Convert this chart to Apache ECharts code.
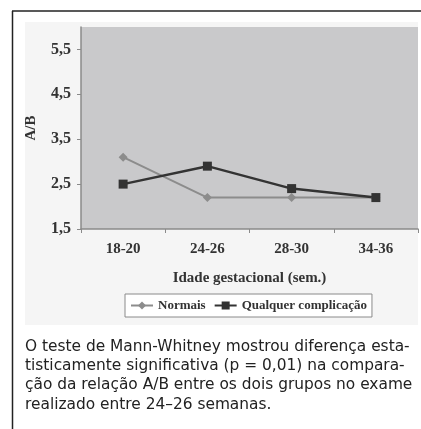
<!DOCTYPE html>
<html><head><meta charset="utf-8">
<script src="https://cdn.jsdelivr.net/npm/echarts@6/dist/echarts.min.js"></script>
<style>html,body{margin:0;padding:0;background:#fff}#c{width:421px;height:429px}</style>
</head><body><div id="c"></div>
<script>
const categories = ['18-20', '24-26', '28-30', '34-36'];
const normais = [3.1, 2.2, 2.2, 2.2];
const qualquer = [2.5, 2.9, 2.4, 2.2];
const yTicks = [1.5, 2.5, 3.5, 4.5, 5.5];
const captionLines = [
  'O teste de Mann-Whitney mostrou diferença esta-',
  'tisticamente significativa (p = 0,01) na compara-',
  'ção da relação A/B entre os dois grupos no exame',
  'realizado entre 24–26 semanas.'
];
const serif = '"Liberation Serif", "Times New Roman", serif';
const chart = echarts.init(document.getElementById('c'), null, {renderer: 'canvas'});
const graphics = [
  {type: 'rect', z: -10, shape: {x: 25, y: 22, width: 393, height: 303}, style: {fill: '#f5f5f5'}},
  {type: 'line', z: 10, shape: {x1: 12.5, y1: 11, x2: 12.5, y2: 429}, style: {stroke: '#222', lineWidth: 1.5}},
  {type: 'line', z: 10, shape: {x1: 12, y1: 11, x2: 421, y2: 11}, style: {stroke: '#222', lineWidth: 1.5}}
];
captionLines.forEach((t, i) => {
  graphics.push({type: 'text', left: 25, top: 339 + i * 19.4, style: {text: t, font: '15.4px "DejaVu Sans", sans-serif', fill: '#222'}});
});
chart.setOption({
  animation: false,
  backgroundColor: '#fff',
  graphic: graphics,
  grid: {left: 81, right: 3, top: 27, bottom: 200, show: true, backgroundColor: '#c9c9cb', borderWidth: 0},
  legend: {
    left: 125, top: 294, padding: [5, 5], itemGap: 8, itemWidth: 22, itemHeight: 10,
    backgroundColor: '#fff', borderColor: '#8a8a8a', borderWidth: 1,
    textStyle: {fontFamily: serif, fontWeight: 'bold', fontSize: 13, color: '#333'},
    data: ['Normais', 'Qualquer complicação']
  },
  xAxis: {
    type: 'category', data: categories, boundaryGap: true,
    name: 'Idade gestacional (sem.)', nameLocation: 'middle', nameGap: 42,
    nameTextStyle: {fontFamily: serif, fontWeight: 'bold', fontSize: 15, color: '#333'},
    axisLine: {lineStyle: {color: '#8a8a8a', width: 1.5}},
    axisTick: {show: true, length: 4, lineStyle: {color: '#8a8a8a'}},
    axisLabel: {margin: 13, fontFamily: serif, fontWeight: 'bold', fontSize: 15, color: '#333'}
  },
  yAxis: {
    type: 'value', min: 1.5, max: 6, interval: 1,
    name: 'A/B', nameLocation: 'middle', nameGap: 42,
    nameTextStyle: {fontFamily: serif, fontWeight: 'bold', fontSize: 15, color: '#333'},
    splitLine: {show: false},
    axisLine: {show: true, lineStyle: {color: '#8a8a8a', width: 1.5}},
    axisTick: {show: true, length: 4, lineStyle: {color: '#8a8a8a'}, customValues: yTicks},
    axisLabel: {margin: 10, fontFamily: serif, fontWeight: 'bold', fontSize: 16, color: '#333',
      customValues: yTicks, formatter: v => v.toFixed(1).replace('.', ',')}
  },
  series: [
    {name: 'Normais', type: 'line', data: normais, symbol: 'diamond', symbolSize: 9,
      lineStyle: {color: '#8c8c8c', width: 2}, itemStyle: {color: '#8c8c8c'}},
    {name: 'Qualquer complicação', type: 'line', data: qualquer, symbol: 'rect', symbolSize: 9,
      lineStyle: {color: '#333', width: 2.5}, itemStyle: {color: '#333'}}
  ]
});
</script></body></html>
